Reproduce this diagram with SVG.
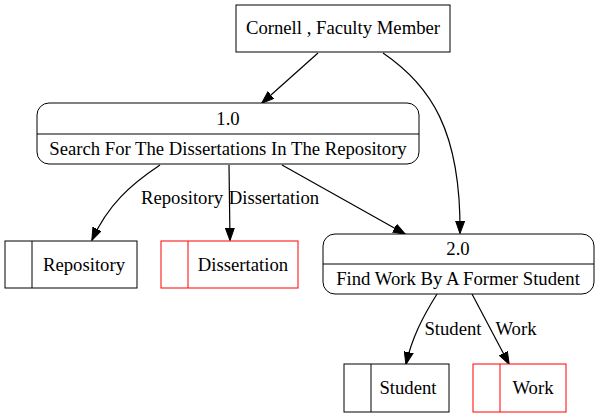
<svg xmlns="http://www.w3.org/2000/svg" width="599" height="419" viewBox="0 0 599 419">
<defs>
<marker id="ah" markerWidth="13" markerHeight="10" refX="12" refY="5" orient="auto" markerUnits="userSpaceOnUse">
<path d="M0,0.5 L12.5,5 L0,9.5 Z" fill="#000" stroke="#000"/>
</marker>
</defs>
<style>
text{font-family:"Liberation Serif","Times New Roman",serif;font-size:18.7px;fill:#000;text-anchor:middle}
.n{fill:#fff;stroke:#000;stroke-width:1}
.r{fill:#fff;stroke:#f00;stroke-width:1}
.rl{stroke:#f00;stroke-width:1}
.bl{stroke:#000;stroke-width:1}
.e{fill:none;stroke:#000;stroke-width:1.2;marker-end:url(#ah)}
</style>
<rect width="599" height="419" fill="#fff"/>
<g id="connectors">
<path class="e" d="M318,53 L262,103"/>
<path class="e" d="M383,53 C430,85 461,130 460,233"/>
<path class="e" d="M160,165 C130,185 108,205 92,240"/>
<path class="e" d="M229,165 L230,240"/>
<path class="e" d="M282,165 L405,234"/>
<path class="e" d="M437,294 C422,318 412,338 406,364"/>
<path class="e" d="M472,294 L509,364"/>
<text x="182" y="204">Repository</text>
<text x="274" y="204">Dissertation</text>
<text x="453" y="335">Student</text>
<text x="516" y="335">Work</text>
</g>
<g id="cornell">
<rect class="n" x="236" y="5" width="214" height="47"/>
<text x="343" y="34">Cornell , Faculty Member</text>
</g>
<g id="p1">
<rect class="n" x="37" y="103" width="382" height="61" rx="12" ry="12"/>
<line class="bl" x1="37" y1="134" x2="419" y2="134"/>
<text x="228" y="125">1.0</text>
<text x="228" y="155">Search For The Dissertations In The Repository</text>
</g>
<g id="repository">
<rect class="n" x="5" y="241" width="132" height="47"/>
<line class="bl" x1="32" y1="241" x2="32" y2="288"/>
<text x="84" y="271">Repository</text>
</g>
<g id="dissertation">
<rect class="r" x="161" y="241" width="137" height="47"/>
<line class="rl" x1="188" y1="241" x2="188" y2="288"/>
<text x="243" y="271">Dissertation</text>
</g>
<g id="p2">
<rect class="n" x="323" y="234" width="271" height="60" rx="12" ry="12"/>
<line class="bl" x1="323" y1="264" x2="594" y2="264"/>
<text x="458" y="255">2.0</text>
<text x="458" y="285">Find Work By A Former Student</text>
</g>
<g id="student">
<rect class="n" x="344" y="364" width="105" height="48"/>
<line class="bl" x1="371" y1="364" x2="371" y2="412"/>
<text x="408" y="394">Student</text>
</g>
<g id="work">
<rect class="r" x="473" y="364" width="93" height="48"/>
<line class="rl" x1="500" y1="364" x2="500" y2="412"/>
<text x="533" y="394">Work</text>
</g>
</svg>
